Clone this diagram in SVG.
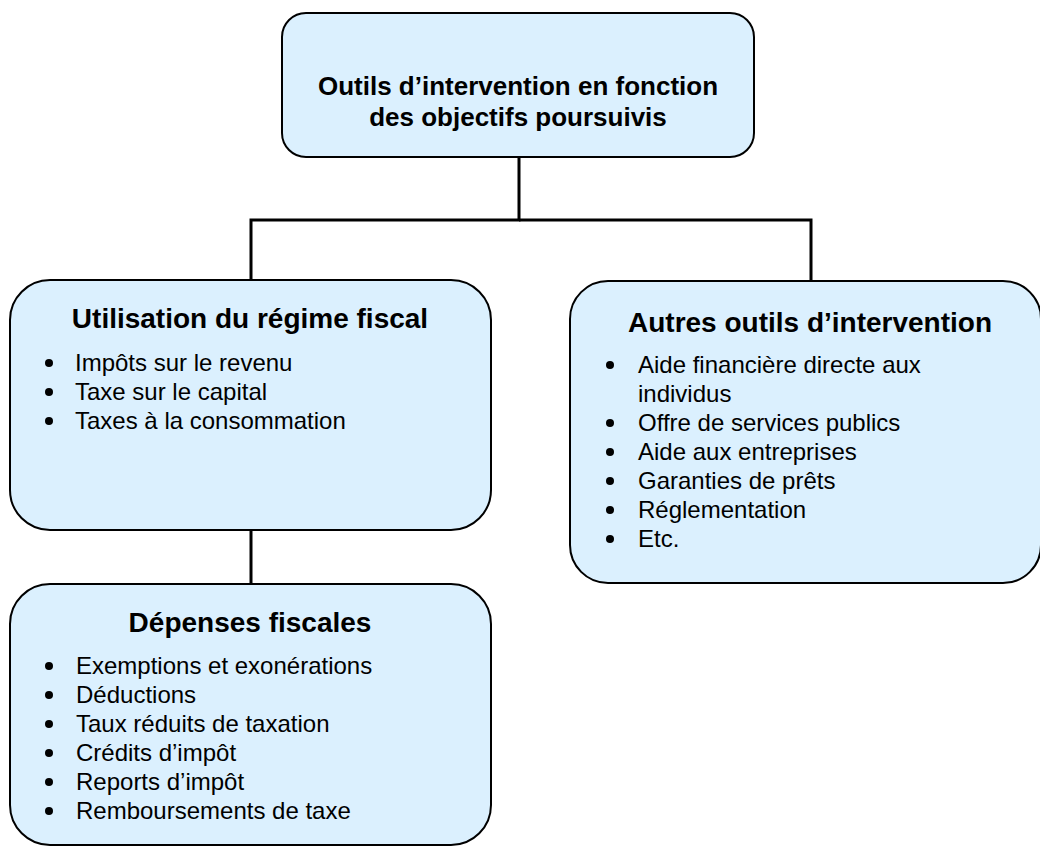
<svg xmlns="http://www.w3.org/2000/svg" width="1040" height="847" viewBox="0 0 1040 847">
<style>
.box{fill:#DBF0FE;stroke:#000;stroke-width:2}
.conn{stroke:#000;stroke-width:3;fill:none}
.t{font-family:"Liberation Sans",Arial,sans-serif;font-weight:bold;fill:#000;text-anchor:middle}
.b{font-family:"Liberation Sans",Arial,sans-serif;font-size:24px;fill:#000}
.dot{fill:#000}
</style>
<rect width="1040" height="847" fill="#fff"/>
<g id="connectors">
<polyline class="conn" points="519,157 519,220 251,220 251,280"/>
<polyline class="conn" points="519,220 811,220 811,281"/>
<line class="conn" x1="251" y1="530" x2="251" y2="584"/>
</g>
<g id="top">
<rect class="box" x="282" y="13" width="472" height="144" rx="24" ry="24"/>
<text class="t" font-size="26" x="518" y="95">Outils d’intervention en fonction</text>
<text class="t" font-size="26" x="518" y="126">des objectifs poursuivis</text>
</g>
<g id="regime">
<rect class="box" x="10" y="280" width="481" height="250" rx="40" ry="40"/>
<text class="t" font-size="28" x="250" y="328">Utilisation du régime fiscal</text>
<circle class="dot" cx="49" cy="363" r="4"/><text class="b" x="75" y="371">Impôts sur le revenu</text>
<circle class="dot" cx="49" cy="392" r="4"/><text class="b" x="75" y="400">Taxe sur le capital</text>
<circle class="dot" cx="49" cy="421" r="4"/><text class="b" x="75" y="429">Taxes à la consommation</text>
</g>
<g id="autres">
<rect class="box" x="570" y="281" width="471" height="302" rx="38" ry="38"/>
<text class="t" font-size="28" x="810" y="332">Autres outils d’intervention</text>
<circle class="dot" cx="610" cy="365" r="4"/><text class="b" x="638" y="373">Aide financière directe aux</text>
<text class="b" x="638" y="402">individus</text>
<circle class="dot" cx="610" cy="423" r="4"/><text class="b" x="638" y="431">Offre de services publics</text>
<circle class="dot" cx="610" cy="452" r="4"/><text class="b" x="638" y="460">Aide aux entreprises</text>
<circle class="dot" cx="610" cy="481" r="4"/><text class="b" x="638" y="489">Garanties de prêts</text>
<circle class="dot" cx="610" cy="510" r="4"/><text class="b" x="638" y="518">Réglementation</text>
<circle class="dot" cx="610" cy="539" r="4"/><text class="b" x="638" y="547">Etc.</text>
</g>
<g id="depenses">
<rect class="box" x="10" y="584" width="481" height="261" rx="40" ry="40"/>
<text class="t" font-size="28" x="250" y="632">Dépenses fiscales</text>
<circle class="dot" cx="49" cy="666" r="4"/><text class="b" x="76" y="674">Exemptions et exonérations</text>
<circle class="dot" cx="49" cy="695" r="4"/><text class="b" x="76" y="703">Déductions</text>
<circle class="dot" cx="49" cy="724" r="4"/><text class="b" x="76" y="732">Taux réduits de taxation</text>
<circle class="dot" cx="49" cy="753" r="4"/><text class="b" x="76" y="761">Crédits d’impôt</text>
<circle class="dot" cx="49" cy="782" r="4"/><text class="b" x="76" y="790">Reports d’impôt</text>
<circle class="dot" cx="49" cy="811" r="4"/><text class="b" x="76" y="819">Remboursements de taxe</text>
</g>
</svg>
